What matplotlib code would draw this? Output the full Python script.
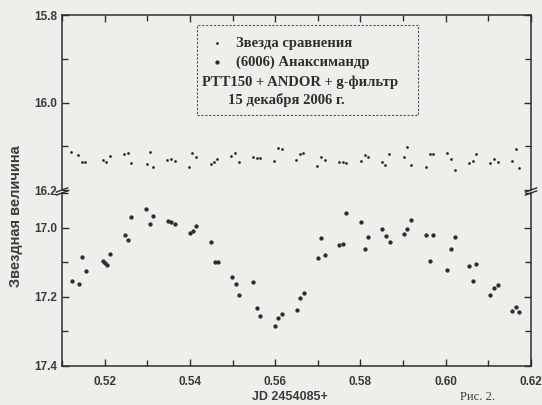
import matplotlib
matplotlib.use("Agg")
import matplotlib.pyplot as plt
from matplotlib.patches import Rectangle
from matplotlib.ticker import MultipleLocator, FormatStrFormatter

# ---- data ----
jd_comp = [0.5121, 0.5138, 0.5147, 0.5155, 0.5195, 0.5203, 0.5213, 0.5246, 0.5255, 0.5263,
           0.5299, 0.5306, 0.5314, 0.5347, 0.5356, 0.5364, 0.5399, 0.5406, 0.5415, 0.5450,
           0.5456, 0.5463, 0.5497, 0.5506, 0.5514, 0.5547, 0.5557, 0.5565, 0.5598, 0.5606,
           0.5615, 0.5649, 0.5658, 0.5666, 0.5699, 0.5708, 0.5716, 0.5750, 0.5759, 0.5767,
           0.5802, 0.5810, 0.5818, 0.5850, 0.5858, 0.5868, 0.5902, 0.5910, 0.5918, 0.5953,
           0.5962, 0.5970, 0.6003, 0.6012, 0.6021, 0.6055, 0.6064, 0.6072, 0.6105, 0.6114,
           0.6122, 0.6156, 0.6164, 0.6173]
mag_comp = [16.114, 16.121, 16.135, 16.135, 16.131, 16.135, 16.122, 16.118, 16.116, 16.138,
            16.140, 16.113, 16.147, 16.131, 16.130, 16.133, 16.147, 16.115, 16.125, 16.141,
            16.136, 16.130, 16.122, 16.115, 16.135, 16.125, 16.126, 16.126, 16.133, 16.103,
            16.106, 16.132, 16.118, 16.115, 16.145, 16.125, 16.131, 16.135, 16.137, 16.139,
            16.134, 16.121, 16.125, 16.135, 16.144, 16.118, 16.124, 16.101, 16.144, 16.147,
            16.118, 16.118, 16.115, 16.129, 16.154, 16.139, 16.134, 16.117, 16.138, 16.129,
            16.137, 16.133, 16.106, 16.149]

jd_ast = [0.5123, 0.5141, 0.5148, 0.5156, 0.5195, 0.5201, 0.5206, 0.5213, 0.5247, 0.5255,
          0.5263, 0.5298, 0.5307, 0.5314, 0.5348, 0.5356, 0.5364, 0.5400, 0.5407, 0.5415,
          0.5450, 0.5458, 0.5465, 0.5499, 0.5507, 0.5515, 0.5549, 0.5557, 0.5565, 0.5599,
          0.5607, 0.5615, 0.5650, 0.5659, 0.5667, 0.5700, 0.5708, 0.5716, 0.5750, 0.5760,
          0.5767, 0.5802, 0.5810, 0.5818, 0.5851, 0.5860, 0.5869, 0.5902, 0.5910, 0.5918,
          0.5953, 0.5963, 0.5970, 0.6004, 0.6012, 0.6022, 0.6055, 0.6064, 0.6072, 0.6105,
          0.6113, 0.6123, 0.6156, 0.6164, 0.6173]
mag_ast = [17.153, 17.162, 17.086, 17.124, 17.097, 17.103, 17.107, 17.077, 17.022, 17.037,
           16.968, 16.947, 16.990, 16.966, 16.981, 16.983, 16.990, 17.015, 17.010, 16.994,
           17.041, 17.100, 17.100, 17.143, 17.163, 17.194, 17.158, 17.232, 17.255, 17.284,
           17.261, 17.250, 17.238, 17.204, 17.190, 17.087, 17.029, 17.080, 17.049, 17.046,
           16.958, 16.984, 17.063, 17.028, 17.005, 17.024, 17.041, 17.019, 17.005, 16.978,
           17.022, 17.096, 17.022, 17.123, 17.062, 17.027, 17.112, 17.153, 17.105, 17.194,
           17.174, 17.165, 17.240, 17.229, 17.243]

legend_lines = ["Звезда сравнения", "(6006) Анаксимандр",
                "PTT150 + ANDOR + g-фильтр", "15 декабря 2006 г."]
x_label = "JD 2454085+"
y_label = "Звездная величина"
fig_caption = "Рис. 2."

# ---- style ----
bg = "#eeeeeb"
ink = "#2e2e2e"
plt.rcParams['font.family'] = ['Liberation Sans', 'DejaVu Sans']

fig = plt.figure(figsize=(5.42, 4.05), dpi=100, facecolor=bg)
L, W = 62/542, 469/542
ax_top = fig.add_axes([L, 1-190/405, W, 175/405], facecolor=bg)
ax_bot = fig.add_axes([L, 1-366/405, W, 173/405], facecolor=bg)

ax_top.plot(jd_comp, mag_comp, 'o', ms=2.0, color=ink, mew=0)
ax_bot.plot(jd_ast, mag_ast, 'o', ms=3.1, color=ink, mew=0)

for ax in (ax_top, ax_bot):
    ax.set_xlim(0.51, 0.62)
    ax.xaxis.set_major_locator(MultipleLocator(0.02))
    ax.xaxis.set_minor_locator(MultipleLocator(0.01))
    ax.yaxis.set_major_locator(MultipleLocator(0.2))
    ax.yaxis.set_minor_locator(MultipleLocator(0.1))
    ax.yaxis.set_major_formatter(FormatStrFormatter('%.1f'))
    ax.xaxis.set_major_formatter(FormatStrFormatter('%.2f'))
    for s in ax.spines.values():
        s.set_color(ink)
        s.set_linewidth(1.1)
    ax.tick_params(which='both', direction='in', colors=ink, labelsize=8.5,
                   width=1.0, right=True)
    ax.tick_params(which='major', length=5)
    ax.tick_params(which='minor', length=4)
    ax.tick_params(axis='x', pad=7)

ax_top.set_ylim(16.2, 15.8)
ax_bot.set_ylim(17.4, 16.9)
ax_bot.set_yticks([17.0, 17.2, 17.4])

ax_top.spines['bottom'].set_visible(False)
ax_bot.spines['top'].set_visible(False)
ax_top.tick_params(which='both', bottom=False, top=True, labelbottom=False)
ax_bot.tick_params(which='both', top=False, bottom=True)
for lab in ax_top.get_yticklabels() + ax_bot.get_yticklabels() + ax_bot.get_xticklabels():
    lab.set_fontweight('bold')
    lab.set_color('#3a3a3a')

# break marks
d = 0.012
for xx in (0, 1):
    ax_top.plot([xx-d, xx+d], [-0.012, 0.012], transform=ax_top.transAxes,
                color=ink, lw=1.0, clip_on=False)
    ax_bot.plot([xx-d, xx+d], [1-0.012, 1+0.012], transform=ax_bot.transAxes,
                color=ink, lw=1.0, clip_on=False)

# labels
fig.text(0.030, 0.467, y_label, rotation=90, ha='center', va='center',
         fontsize=10.5, fontweight='bold', color='#3a3a3a')
fig.text(0.535, 0.02, x_label, ha='center', va='center',
         fontsize=9, fontweight='bold', color='#3a3a3a')
fig.text(0.849, 0.02, fig_caption, ha='left', va='center', fontsize=9,
         family=['Liberation Serif', 'DejaVu Serif'], color='#3a3a3a')

# legend box (upper axes coordinates)
box = Rectangle((0.288, 0.429), 0.471, 0.514, transform=ax_top.transAxes,
                fill=False, ls=(0, (2, 1.5)), lw=0.8, edgecolor='#555555')
ax_top.add_patch(box)
serif = ['Liberation Serif', 'DejaVu Serif']
ax_top.plot([0.330], [0.84], 'o', ms=2.0, color=ink, mew=0,
            transform=ax_top.transAxes, clip_on=False)
ax_top.plot([0.330], [0.731], 'o', ms=3.1, color=ink, mew=0,
            transform=ax_top.transAxes, clip_on=False)
fs = 10.5
ax_top.text(0.372, 0.84, legend_lines[0], transform=ax_top.transAxes, va='center',
            ha='left', fontsize=fs, fontweight='bold', family=serif, color=ink)
ax_top.text(0.372, 0.731, legend_lines[1], transform=ax_top.transAxes, va='center',
            ha='left', fontsize=fs, fontweight='bold', family=serif, color=ink)
ax_top.text(0.508, 0.617, legend_lines[2], transform=ax_top.transAxes, va='center',
            ha='center', fontsize=fs, fontweight='bold', family=serif, color=ink)
ax_top.text(0.478, 0.512, legend_lines[3], transform=ax_top.transAxes, va='center',
            ha='center', fontsize=fs, fontweight='bold', family=serif, color=ink)

fig.savefig("out.png", dpi=100, facecolor=bg)
